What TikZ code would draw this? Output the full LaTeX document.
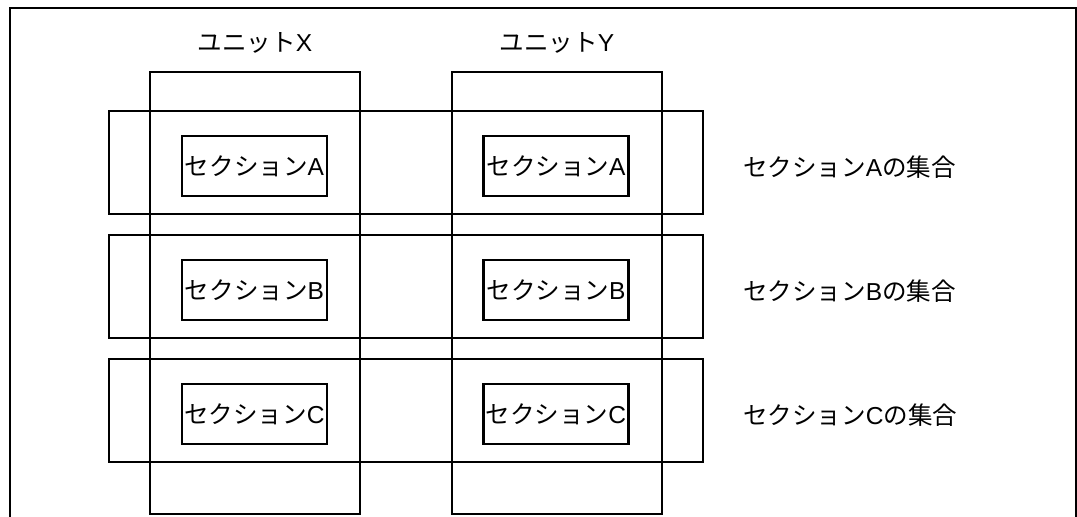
\documentclass[tikz,border=0pt]{standalone}
\usepackage{fontspec}
\setmainfont{Liberation Sans}
\newfontfamily\cjk{Noto Sans CJK JP}
\begin{document}
\begin{tikzpicture}[x=0.75pt,y=-0.75pt,
  every node/.style={font=\fontsize{18.4}{21}\selectfont},
  unitbox/.style={draw,line width=2pt,minimum width=210*0.75pt,minimum height=442*0.75pt,inner sep=0},
  rowbox/.style={draw,line width=0.8pt,minimum width=594*0.75pt,minimum height=103*0.75pt,inner sep=0},
  secbox/.style={draw,line width=2pt,minimum width=145*0.75pt,minimum height=60*0.75pt,inner sep=0},
  lbl/.style={inner sep=0},
  frameline/.style={draw,line width=1.2pt}]
\useasboundingbox (0,0) rectangle (1077,517);
\path[frameline] (10,520) -- (10,8) -- (1076,8) -- (1076,520);
% rows
\node[rowbox] (rowA) at (406,162.5) {};
\node[rowbox] (rowB) at (406,286.5) {};
\node[rowbox] (rowC) at (406,410.5) {};
% units
\node[unitbox] (unitX) at (255,293) {};
\node[unitbox] (unitY) at (557,293) {};
\node[lbl] (lblX) at (255,43) {{\cjk ユニット}X};
\node[lbl] (lblY) at (557,43) {{\cjk ユニット}Y};
% sections
\node[secbox] (xA) at (254.5,166) {{\cjk セクション}A};
\node[secbox] (xB) at (254.5,290) {{\cjk セクション}B};
\node[secbox] (xC) at (254.5,414) {{\cjk セクション}C};
\node[secbox] (yA) at (556,166) {{\cjk セクション}A};
\node[secbox] (yB) at (556,290) {{\cjk セクション}B};
\node[secbox] (yC) at (556,414) {{\cjk セクション}C};
% set labels
\node[lbl,anchor=west] (sA) at (743,167) {{\cjk セクション}A{\cjk の集合}};
\node[lbl,anchor=west] (sB) at (743,291) {{\cjk セクション}B{\cjk の集合}};
\node[lbl,anchor=west] (sC) at (743,415) {{\cjk セクション}C{\cjk の集合}};
\end{tikzpicture}
\end{document}
